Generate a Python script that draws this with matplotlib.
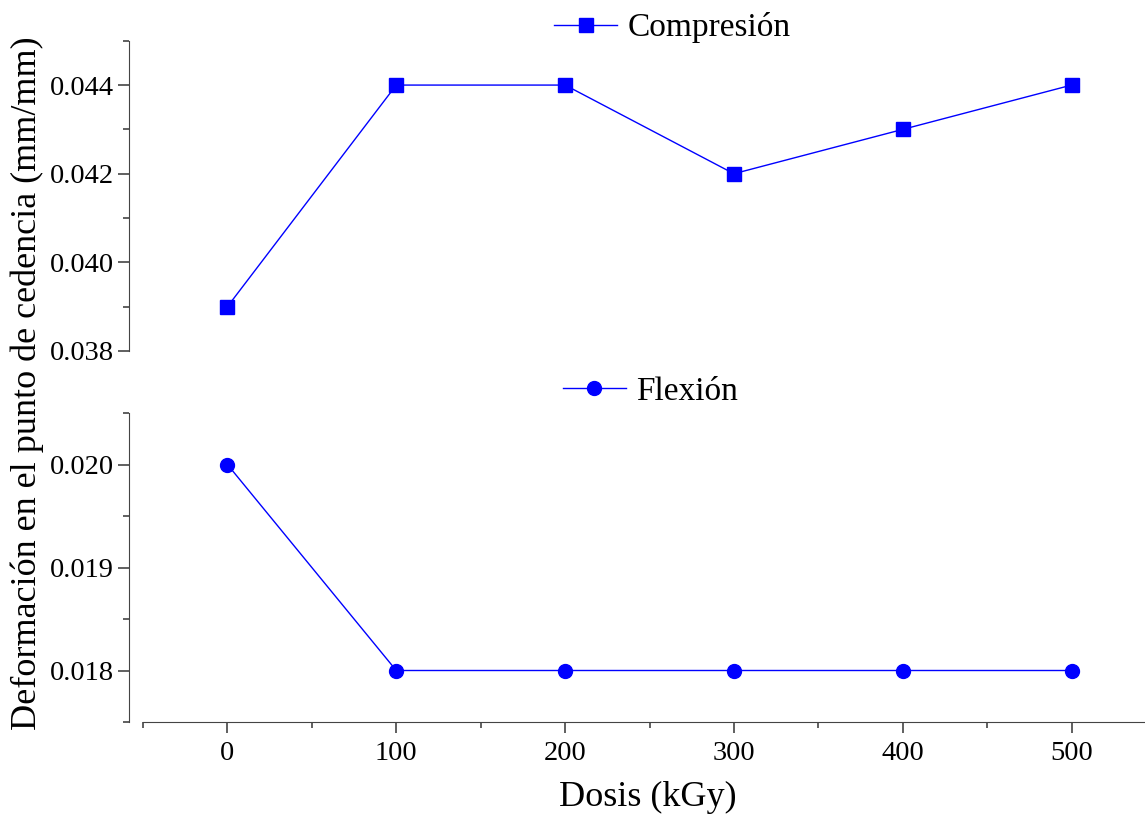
import numpy as np
import matplotlib
matplotlib.use("Agg")
import matplotlib.pyplot as plt
from matplotlib.ticker import MultipleLocator, FormatStrFormatter

plt.rcParams['font.family'] = ['Liberation Serif', 'DejaVu Serif']

dosis = [0, 100, 200, 300, 400, 500]
compresion = [0.039, 0.044, 0.044, 0.042, 0.043, 0.044]
flexion = [0.020, 0.018, 0.018, 0.018, 0.018, 0.018]

W, H = 1145, 816
fig = plt.figure(figsize=(W / 100, H / 100), dpi=100)

# axes in pixel units -> figure fractions
def px_axes(x0, y_top, x1, y_bot):
    return fig.add_axes([x0 / W, 1 - y_bot / H, (x1 - x0) / W, (y_bot - y_top) / H])

ax_top = px_axes(143, 40.75, 1156, 351)
ax_bot = px_axes(143, 413, 1156, 722)

spine_col = '#444444'
for ax in (ax_top, ax_bot):
    ax.set_xlim(-50, 550)
    for s in ('top', 'right'):
        ax.spines[s].set_visible(False)
    ax.spines['left'].set_position(('outward', 10))
    ax.spines['left'].set_color(spine_col)
    ax.spines['bottom'].set_color(spine_col)
    ax.tick_params(axis='both', which='major', direction='out', length=8, width=1.2,
                   color=spine_col, labelsize=20.5, pad=3)
    ax.tick_params(axis='both', which='minor', direction='out', length=4, width=1.2,
                   color=spine_col)
    ax.xaxis.set_major_locator(MultipleLocator(100))
    ax.xaxis.set_minor_locator(MultipleLocator(50))

# upper panel: compression
ax_top.plot(dosis, compresion, color='#0000ff', lw=1, marker='s', ms=9.5,
            label='Compresión')
ax_top.set_ylim(0.038, 0.045)
ax_top.yaxis.set_major_locator(MultipleLocator(0.002))
ax_top.yaxis.set_minor_locator(MultipleLocator(0.001))
ax_top.yaxis.set_major_formatter(FormatStrFormatter('%.3f'))
ax_top.spines['bottom'].set_visible(False)
ax_top.xaxis.set_visible(False)

# lower panel: flexion
ax_bot.plot(dosis, flexion, color='#0000ff', lw=1, marker='o', ms=10,
            label='Flexión')
ax_bot.set_ylim(0.0175, 0.0205)
ax_bot.yaxis.set_major_locator(MultipleLocator(0.001))
ax_bot.yaxis.set_minor_locator(MultipleLocator(0.0005))
ax_bot.yaxis.set_major_formatter(FormatStrFormatter('%.3f'))
ax_bot.tick_params(axis='x', pad=6)

leg_kw = dict(loc='center', frameon=False, fontsize=24, handlelength=1.9,
              handletextpad=0.3, bbox_transform=fig.transFigure,
              borderpad=0, borderaxespad=0)
ax_top.legend(bbox_to_anchor=(0.587, 0.966), **leg_kw)
ax_bot.legend(bbox_to_anchor=(0.568, 0.520), **leg_kw)

fig.text(648 / W, 1 - 797 / H, 'Dosis (kGy)', ha='center', va='center', fontsize=26)
fig.text(27 / W, 1 - 383 / H, 'Deformación en el punto de cedencia (mm/mm)',
         ha='center', va='center', rotation=90, fontsize=26)

fig.savefig('out.png', dpi=100)
